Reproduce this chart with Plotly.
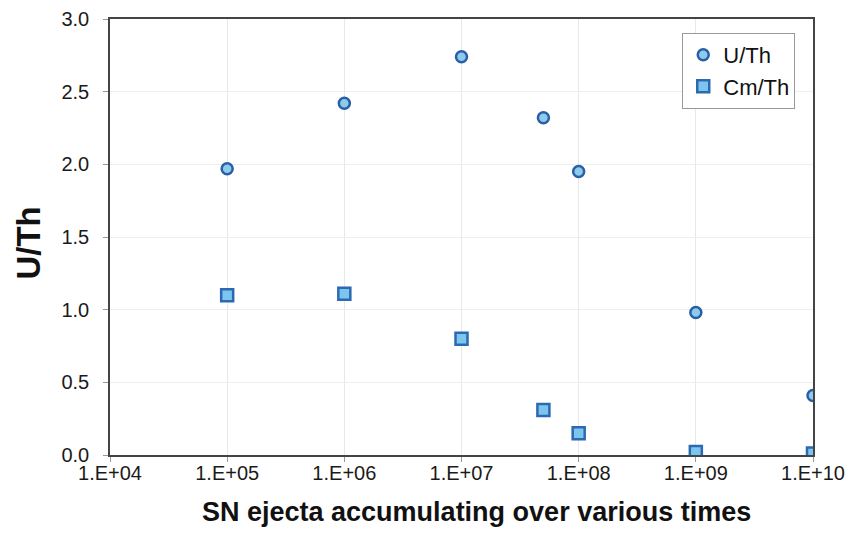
import plotly.graph_objects as go

x_vals = [1e5, 1e6, 1e7, 5e7, 1e8, 1e9, 1e10]
u_th = [1.97, 2.42, 2.74, 2.32, 1.95, 0.98, 0.41]
cm_th = [1.10, 1.11, 0.80, 0.31, 0.15, 0.02, 0.01]
x_ticks = [1e4, 1e5, 1e6, 1e7, 1e8, 1e9, 1e10]
x_tick_labels = ["1.E+04", "1.E+05", "1.E+06", "1.E+07", "1.E+08", "1.E+09", "1.E+10"]
y_ticks = [0.0, 0.5, 1.0, 1.5, 2.0, 2.5, 3.0]
y_tick_labels = ["0.0", "0.5", "1.0", "1.5", "2.0", "2.5", "3.0"]
x_title = "SN ejecta accumulating over various times"
y_title = "U/Th"

fig = go.Figure()
fig.add_trace(go.Scatter(
    x=x_vals, y=u_th, mode="markers", name="U/Th",
    marker=dict(symbol="circle", size=11, color="#8ccbec",
                line=dict(color="#2a5fa6", width=2.5)),
))
fig.add_trace(go.Scatter(
    x=x_vals, y=cm_th, mode="markers", name="Cm/Th",
    marker=dict(symbol="square", size=12, color="#7cc6ee",
                line=dict(color="#2d68b3", width=2.5)),
))

font = "Liberation Sans, Arial, sans-serif"
fig.update_layout(
    width=858, height=553,
    margin=dict(l=102, r=53, t=11, b=106),
    paper_bgcolor="white", plot_bgcolor="white",
    font=dict(family=font, size=20, color="#1a1a1a"),
    showlegend=True,
    legend=dict(x=0.814, y=0.968, xanchor="left", yanchor="top",
                bordercolor="#999", borderwidth=1, bgcolor="white",
                font=dict(size=22, color="#111"),
                itemwidth=30),
    xaxis=dict(
        type="log", range=[4, 10], automargin=False,
        tickvals=x_ticks, ticktext=x_tick_labels,
        showgrid=True, gridcolor="#e8e8e8", gridwidth=1,
        showline=True, linecolor="#444", linewidth=1.5, mirror=True,
        ticks="outside", ticklen=5, tickcolor="#999",
        ticklabelstandoff=-6,
        tickfont=dict(size=20, color="#1a1a1a"),
        zeroline=False,
    ),
    yaxis=dict(
        range=[0, 3.0], automargin=False,
        tickvals=y_ticks, ticktext=y_tick_labels,
        showgrid=True, gridcolor="#eeeeee", gridwidth=1,
        showline=True, linecolor="#444", linewidth=1.5, mirror=True,
        ticks="outside", ticklen=5, tickcolor="#999",
        ticklabelstandoff=10,
        tickfont=dict(size=20, color="#1a1a1a"),
        zeroline=False,
    ),
    annotations=[
        dict(text="<b>" + x_title + "</b>", xref="paper", yref="paper",
             x=0.522, y=-0.131, xanchor="center", yanchor="middle",
             showarrow=False, font=dict(size=27, color="#111")),
        dict(text="<b>" + y_title + "</b>", xref="paper", yref="paper",
             x=-0.116, y=0.486, xanchor="center", yanchor="middle", textangle=-90,
             showarrow=False, font=dict(size=33, color="#111")),
    ],
)

fig.write_html("out.html")
